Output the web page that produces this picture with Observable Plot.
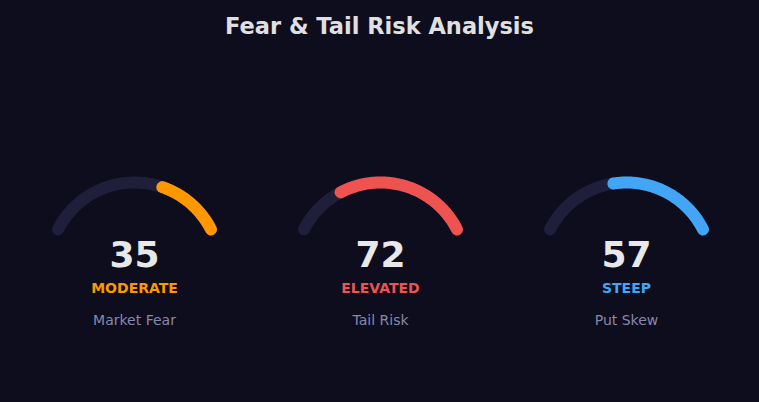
<!DOCTYPE html>
<html><head><meta charset="utf-8">
<script src="https://cdn.jsdelivr.net/npm/d3@7"></script>
<script src="https://cdn.jsdelivr.net/npm/@observablehq/plot@0.6"></script>
<style>
html,body{margin:0;padding:0;background:#0d0d1e;}
#title{height:52px;line-height:52px;text-align:center;font-family:"DejaVu Sans";font-weight:bold;font-size:22.5px;color:#e0e0e0;}
</style></head><body>
<div id="title">Fear &amp; Tail Risk Analysis</div>
<div id="chart"></div>
<script>
// data
const names = ["Market Fear", "Tail Risk", "Put Skew"];
const values = [35, 72, 57];
const statuses = ["MODERATE", "ELEVATED", "STEEP"];
const palette = ["#ff9800", "#ef5350", "#42a5f5"];
const maxValue = 100;

// layout
const W = 759, H = 350, M = 10, R = 86, CY = 216, SPAN = 126;
const facetW = (W - 2 * M) / names.length;

const gauges = names.map((name, i) => ({name, value: values[i], status: statuses[i], color: palette[i]}));

function arcPts(g, a0, a1) {
  const n = 80, pts = [];
  for (let k = 0; k <= n; k++) {
    const a = (a0 + (a1 - a0) * k / n) * Math.PI / 180;
    pts.push({name: g.name, color: g.color, x: Math.sin(a), y: Math.cos(a)});
  }
  return pts;
}
const track = gauges.flatMap(g => arcPts(g, -SPAN / 2, SPAN / 2));
const fill = gauges.flatMap(g => arcPts(g, -SPAN / 2 + (1 - g.value / maxValue) * SPAN, SPAN / 2));
const hx = facetW / 2 / R;

const chart = Plot.plot({
  width: W, height: H,
  marginLeft: M, marginRight: M, marginTop: 0, marginBottom: 0,
  fx: {domain: names, axis: null, padding: 0},
  x: {domain: [-hx, hx], axis: null},
  y: {domain: [-(H - CY) / R, CY / R], axis: null},
  color: {type: "identity"},
  style: {background: "transparent", fontFamily: "DejaVu Sans"},
  marks: [
    Plot.line(track, {x: "x", y: "y", z: "name", fx: "name", stroke: "#1f1f3b", strokeWidth: 12, strokeLinecap: "round", curve: "linear"}),
    Plot.line(fill, {x: "x", y: "y", z: "name", fx: "name", stroke: "color", strokeWidth: 12, strokeLinecap: "round", curve: "linear"}),
    Plot.text(gauges, {x: d => 0, y: d => 0, fx: "name", text: d => String(d.value), fill: "#e8e8e8", fontSize: 36, fontWeight: "bold", dy: -13}),
    Plot.text(gauges, {x: d => 0, y: d => 0, fx: "name", text: "status", fill: "color", fontSize: 14, fontWeight: "bold", dy: 20.5}),
    Plot.text(gauges, {x: d => 0, y: d => 0, fx: "name", text: "name", fill: "#8888aa", fontSize: 14, dy: 52})
  ]
});
document.getElementById("chart").appendChild(chart);
</script>
</body></html>
